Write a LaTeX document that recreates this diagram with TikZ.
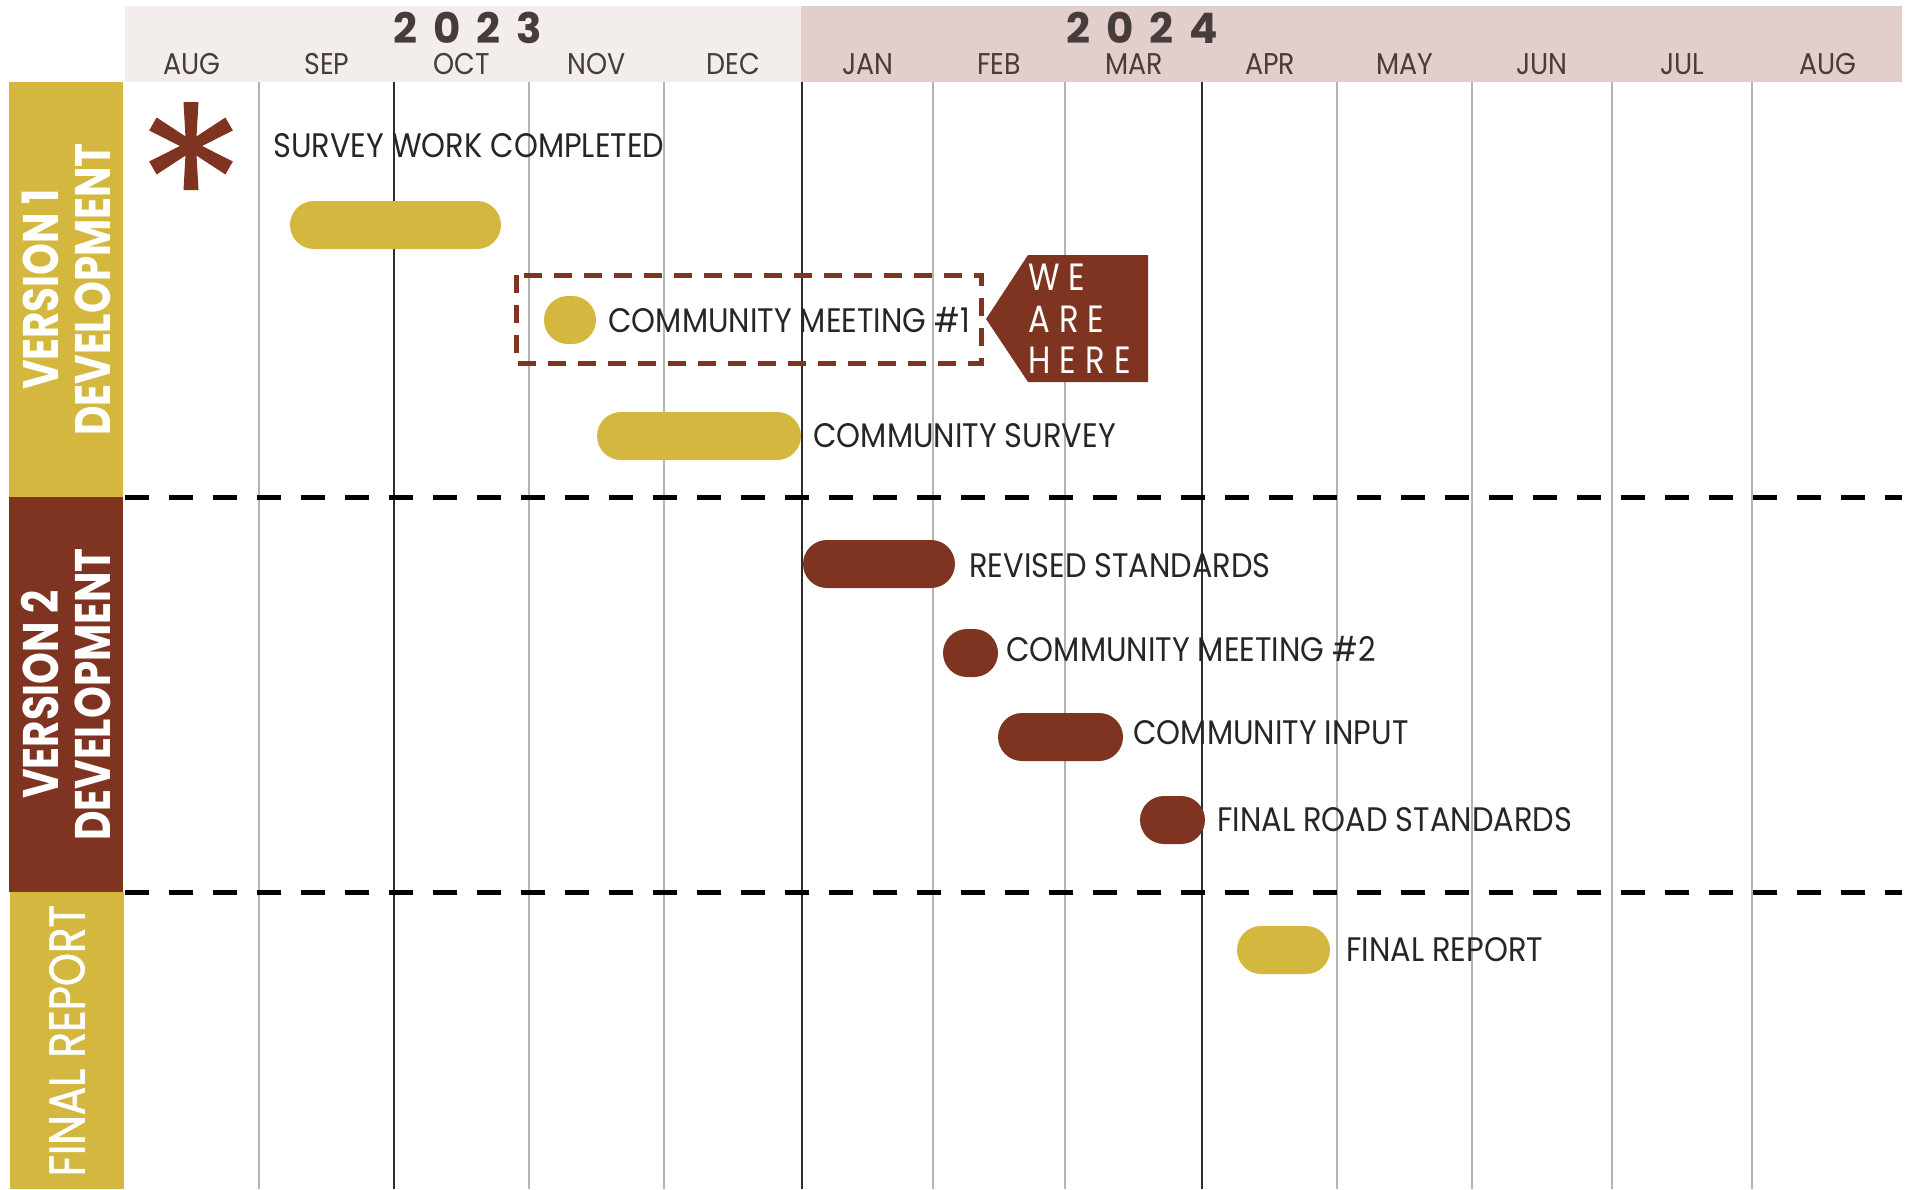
\documentclass[tikz,border=0pt]{standalone}
\usepackage{fontspec}
\setmainfont{Poppins}
\newfontfamily\taskfont{Poppins}[FakeStretch=0.895]
\newfontfamily\phasefont{Poppins}[FakeStretch=0.81]
\newfontfamily\reportfont{Poppins}[FakeStretch=0.84,FakeBold=1.2]
\newfontfamily\yearfont{Poppins}[LetterSpace=38]
\newfontfamily\herefont{Poppins}[LetterSpace=24,FakeStretch=0.85]
\usetikzlibrary{positioning}

\definecolor{gold}{RGB}{211,183,62}
\definecolor{rust}{RGB}{126,52,32}
\definecolor{headA}{RGB}{243,237,235}
\definecolor{headB}{RGB}{226,206,202}
\definecolor{gridline}{RGB}{180,180,180}
\definecolor{quarterline}{RGB}{45,45,45}
\definecolor{monthink}{RGB}{70,60,60}

\tikzset{
  taskbar/.style={rectangle,rounded corners=24pt,minimum height=48pt,inner sep=0pt},
  goldbar/.style={taskbar,fill=gold},
  rustbar/.style={taskbar,fill=rust},
  tasklabel/.style={inner sep=0pt,text=black!85,font=\taskfont\fontsize{34}{36}\selectfont},
  monthlabel/.style={inner sep=0pt,text=monthink,font=\taskfont\fontsize{30}{32}\selectfont},
  yearlabel/.style={inner sep=0pt,text=monthink,font=\yearfont\bfseries\fontsize{42}{44}\selectfont},
  phase/.style={rotate=90,text=white,align=center,inner sep=0pt,
    font=\phasefont\bfseries\fontsize{50}{52}\selectfont},
  sepline/.style={line width=5pt,dash pattern=on 24pt off 20pt},
}

\begin{document}
\begin{tikzpicture}[x=1pt,y=-1pt]
\useasboundingbox (0,0) rectangle (1908,1189);

% month grid
\foreach \x in {259,529,664,933,1065,1337,1472,1612,1752}
  \draw[gridline,line width=1.5pt] (\x,82) -- (\x,1189);
\foreach \x in {394,802,1202}
  \draw[quarterline,line width=2pt] (\x,82) -- (\x,1189);

% header
\fill[headA] (125,6) rectangle (801,82);
\fill[headB] (801,6) rectangle (1902,82);
\node[yearlabel] (y23) at (468,28) {2023};
\node[yearlabel] (y24) at (1142,28) {2024};
\foreach \x/\m in {192/AUG,327/SEP,462/OCT,597/NOV,733/DEC,868/JAN,999/FEB,
                   1134/MAR,1270/APR,1405/MAY,1542/JUN,1682/JUL,1828/AUG}
  \node[monthlabel] at (\x,64) {\m};

% phases
\node[phase,fill=gold,minimum width=415pt,minimum height=114pt] (v1) at (66,289.5)
  {VERSION 1\\DEVELOPMENT};
\node[phase,fill=rust,minimum width=395pt,minimum height=114pt] (v2) at (66,694.5)
  {VERSION 2\\DEVELOPMENT};
\node[phase,fill=gold,minimum width=297pt,minimum height=114pt,
  font=\reportfont\fontsize{50}{52}\selectfont] (fr) at (67,1040.5) {FINAL REPORT};

\draw[sepline] (125,497) -- (1902,497);
\draw[sepline] (125,892) -- (1902,892);

% version 1
\coordinate (ast) at (191,146);
\foreach \a in {30,90,150,210,270,330}
  \fill[rust,shift={(ast)},rotate=\a] (0,-5) -- (44,-7.5) -- (44,7.5) -- (0,5) -- cycle;
\node[tasklabel,anchor=west] (swc) at (273,146) {SURVEY WORK COMPLETED};

\node[goldbar,minimum width=211pt] (sw) at (395.5,225) {};

\node[goldbar,minimum width=52pt] (m1) at (570,320) {};
\node[tasklabel,right=12pt of m1] (m1txt) {COMMUNITY MEETING \#1};
\draw[rust,line width=5pt,dash pattern=on 18pt off 12pt] (516,275) rectangle (981,363);

\fill[rust] (986,319) -- (1028,255) -- (1148,255) -- (1148,382) -- (1028,382) -- cycle;
\node[inner sep=0pt,text=white,align=left,anchor=west,
  font=\herefont\fontsize{38}{41.5}\selectfont] (here) at (1028,319) {WE\\ARE\\HERE};

\node[goldbar,minimum width=204pt] (cs) at (699,436) {};
\node[tasklabel,right=12pt of cs] (cstxt) {COMMUNITY SURVEY};

% version 2
\node[rustbar,minimum width=152pt] (rs) at (879,564) {};
\node[tasklabel,right=14pt of rs,yshift=-2pt] (rstxt) {REVISED STANDARDS};

\node[rustbar,minimum width=55pt] (m2) at (970.5,653) {};
\node[tasklabel,right=8pt of m2,yshift=4pt] (m2txt) {COMMUNITY MEETING \#2};

\node[rustbar,minimum width=125pt] (ci) at (1060.5,737) {};
\node[tasklabel,right=10pt of ci,yshift=4pt] (citxt) {COMMUNITY INPUT};

\node[rustbar,minimum width=65pt] (frs) at (1172.5,820) {};
\node[tasklabel,right=12pt of frs] (frstxt) {FINAL ROAD STANDARDS};

% final report
\node[goldbar,minimum width=93pt] (rep) at (1283.5,950) {};
\node[tasklabel,right=16pt of rep] (reptxt) {FINAL REPORT};
\end{tikzpicture}
\end{document}
